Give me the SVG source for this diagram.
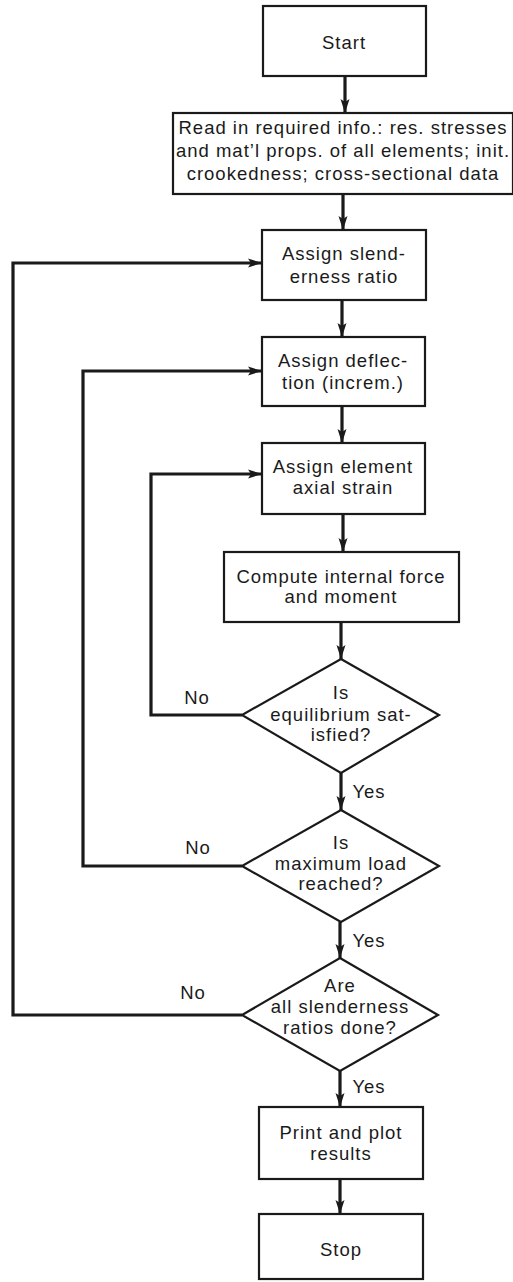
<svg xmlns="http://www.w3.org/2000/svg" width="513" height="1282" viewBox="0 0 513 1282">
<style>
.box{fill:#fff;stroke:#1a1a1a;stroke-width:2.2}
.t{font-family:"Liberation Sans",Arial,sans-serif;font-size:18.5px;letter-spacing:1px;fill:#1a1a1a;text-anchor:middle}
.c{fill:none;stroke:#1a1a1a;stroke-width:3.2;stroke-linejoin:miter}
</style>
<defs>
<marker id="ah" markerUnits="userSpaceOnUse" markerWidth="16" markerHeight="12" refX="14" refY="5" orient="auto">
<path d="M0,0.5 L14,5 L0,9.5 L3,5 Z" fill="#1a1a1a"/>
</marker>
</defs>
<rect width="513" height="1282" fill="#fff"/>
<g id="connectors">
<line class="c" x1="345" y1="76" x2="345" y2="113" marker-end="url(#ah)"/>
<line class="c" x1="343" y1="194" x2="343" y2="230" marker-end="url(#ah)"/>
<line class="c" x1="342" y1="300" x2="342" y2="337" marker-end="url(#ah)"/>
<line class="c" x1="342" y1="406" x2="342" y2="443" marker-end="url(#ah)"/>
<line class="c" x1="343" y1="514" x2="343" y2="552" marker-end="url(#ah)"/>
<line class="c" x1="341" y1="622" x2="341" y2="659" marker-end="url(#ah)"/>
<line class="c" x1="341" y1="773" x2="341" y2="810" marker-end="url(#ah)"/>
<line class="c" x1="340" y1="922" x2="340" y2="958" marker-end="url(#ah)"/>
<line class="c" x1="340" y1="1071" x2="340" y2="1107" marker-end="url(#ah)"/>
<line class="c" x1="340" y1="1179" x2="340" y2="1214" marker-end="url(#ah)"/>
<polyline class="c" points="242,715 151,715 151,474 262,474" marker-end="url(#ah)"/>
<polyline class="c" points="242,866 83,866 83,371 262,371" marker-end="url(#ah)"/>
<polyline class="c" points="242,1015 13,1015 13,263 262,263" marker-end="url(#ah)"/>
<text class="t" x="197" y="704">No</text>
<text class="t" x="198" y="854">No</text>
<text class="t" x="193" y="999">No</text>
<text class="t" x="369" y="798">Yes</text>
<text class="t" x="369" y="947">Yes</text>
<text class="t" x="369" y="1093">Yes</text>
</g>
<g id="start">
<rect class="box" x="263" y="6" width="163" height="70"/>
<text class="t" x="344" y="49">Start</text>
</g>
<g id="read">
<rect class="box" x="173" y="113" width="340" height="81"/>
<text class="t" x="343" y="134">Read in required info.: res. stresses</text>
<text class="t" x="343" y="157">and mat’l props. of all elements; init.</text>
<text class="t" x="343" y="180">crookedness; cross-sectional data</text>
</g>
<g id="assign-slenderness">
<rect class="box" x="262" y="230" width="164" height="70"/>
<text class="t" x="344" y="260">Assign slend-</text>
<text class="t" x="344" y="283">erness ratio</text>
</g>
<g id="assign-deflection">
<rect class="box" x="262" y="337" width="163" height="69"/>
<text class="t" x="343" y="367">Assign deflec-</text>
<text class="t" x="343" y="389">tion (increm.)</text>
</g>
<g id="assign-strain">
<rect class="box" x="262" y="443" width="163" height="71"/>
<text class="t" x="343" y="473">Assign element</text>
<text class="t" x="343" y="494">axial strain</text>
</g>
<g id="compute">
<rect class="box" x="224" y="552" width="235" height="70"/>
<text class="t" x="341" y="583">Compute internal force</text>
<text class="t" x="341" y="603">and moment</text>
</g>
<g id="equilibrium">
<polygon class="box" points="341,659 439,715 341,773 242,715"/>
<text class="t" x="341" y="699">Is</text>
<text class="t" x="341" y="721">equilibrium sat-</text>
<text class="t" x="341" y="741">isfied?</text>
</g>
<g id="maxload">
<polygon class="box" points="341,810 439,866 341,922 242,866"/>
<text class="t" x="341" y="849">Is</text>
<text class="t" x="341" y="870">maximum load</text>
<text class="t" x="341" y="890">reached?</text>
</g>
<g id="slenderness-done">
<polygon class="box" points="340,958 438,1015 340,1071 242,1015"/>
<text class="t" x="340" y="992">Are</text>
<text class="t" x="340" y="1013">all slenderness</text>
<text class="t" x="340" y="1034">ratios done?</text>
</g>
<g id="print">
<rect class="box" x="259" y="1107" width="164" height="72"/>
<text class="t" x="341" y="1139">Print and plot</text>
<text class="t" x="341" y="1160">results</text>
</g>
<g id="stop">
<rect class="box" x="259" y="1214" width="164" height="65"/>
<text class="t" x="341" y="1256">Stop</text>
</g>
</svg>
